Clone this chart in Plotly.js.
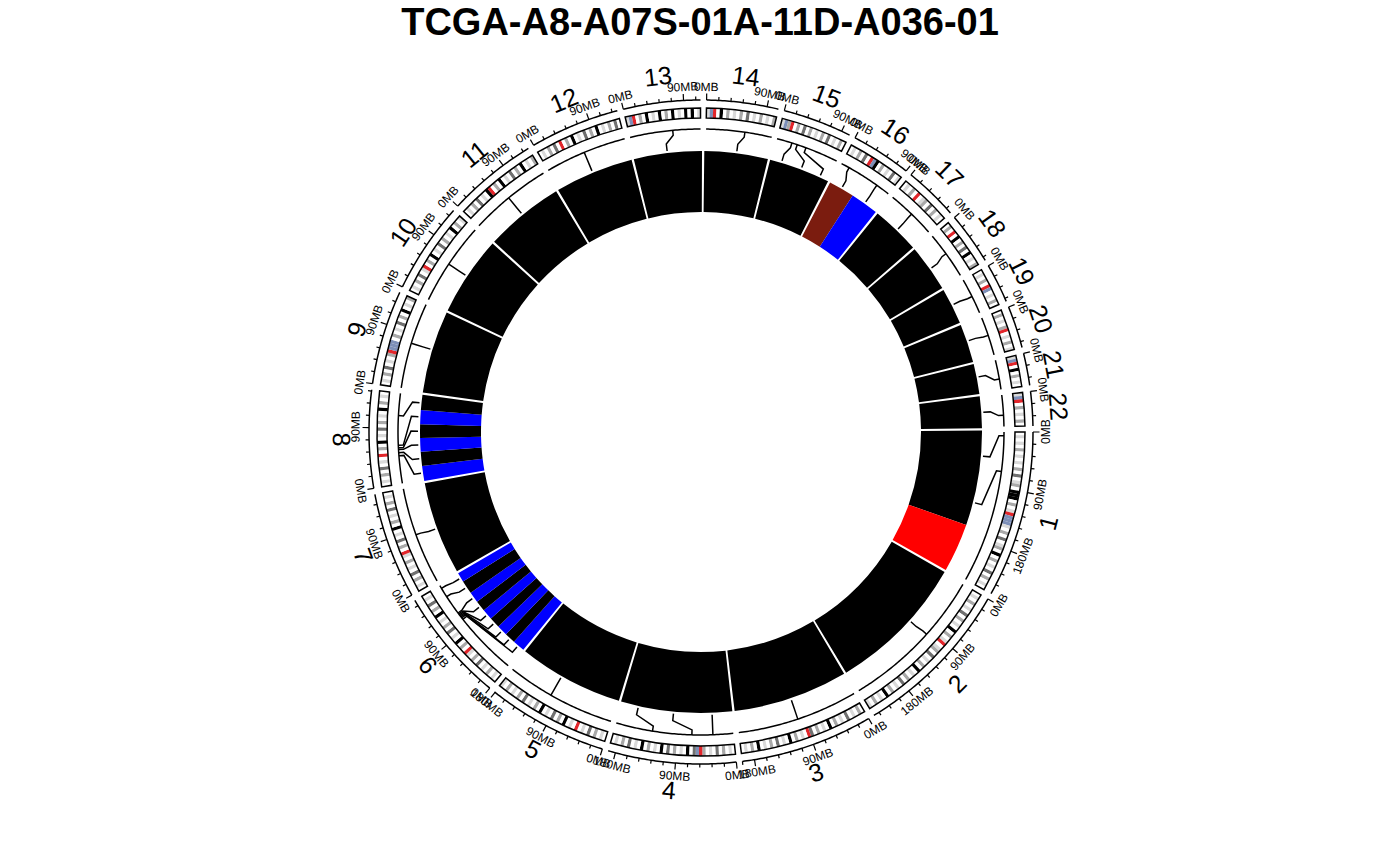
<!DOCTYPE html>
<html>
<head>
<meta charset="utf-8">
<script src="https://cdn.plot.ly/plotly-3.0.1.min.js"></script>
<style>
  html, body { margin: 0; padding: 0; background: #fff; }
  #chart { width: 1400px; height: 866px; }
</style>
</head>
<body>
<div id="chart"></div>
<script>
// chromosomes, sizes in MB
const chrNames = ['1','2','3','4','5','6','7','8','9','10','11','12','13','14','15','16','17','18','19','20','21','22'];
const chrLengths = [249,243,198,191,181,171,159,146,141,136,135,134,115,107,103,90,81,78,59,63,48,51];
const chrGap = 9;

// ideogram bands, one letter per equal slice of the chromosome
// w gneg, l gpos25, g gpos50, d gpos75, b gpos100, r acen, s stalk/gvar
const bandPatterns = [
  'wlwlwgwlwlwgwdwlgwbbbwgwlrssslwgwdwlgwbwgwlwdwgwlw',
  'wlwgwlwdwgwlwbwgwlrwlgwdwlwgwbwlwgwdwlwgwbwlwgwl',
  'wgwlwdwlwgwbwlwgwdrwlwgwbwlwdwgwlwbwgwlw',
  'wlwgwdwlwgrsdwbwlwgwdwbwlwgwbwlwdwgwlw',
  'wlwgwdwlwrwlwbwgwdwlwbwgwlwdwgwlwgwl',
  'wlwgwlwdwgwlrwgwbwlwdwgwlwbwgwdwlw',
  'wlwgwdwlwgwlrwgwdwlwbwgwlwdwgwlw',
  'wlwgwdwlwrwgwbwlwdwgwlwbwgwlw',
  'wlwgwdwlwgrssswgwlwdwgwbwlwg',
  'wlwgwdwlrwgwbwlwdwgwlwbwgwl',
  'wlwgwdwlwbrwgwbwlwdwgwbwlwg',
  'wlwgwdwrwgwbwlwdwgwbwlwgwdw',
  'lsrwgwbwlwbwgwbwlwbwbwl',
  'lsrwbwgwlwgwdwlwgwlwg',
  'lsgrwgwdwgwlwgwdwlwgw',
  'wlwgwdwrsbwgwlwdwl',
  'wlwgwrwlgwdwgwlw',
  'wgwrwbwgwdwbwlwg',
  'wlwgwrswlwgw',
  'wgwlwgrwlwgwl',
  'lsrwbwgwlw',
  'lsrwgwlwgw'
];
const bandColors = {w: '#ffffff', l: '#d9d9d9', g: '#a9a9a9', d: '#707070', b: '#000000', r: '#e2262b', s: '#7d8fb8'};

// copy number segments of the inner ring (MB)
const segChr   = ['1','1','2','3','4','5','6','6','6','6','6','6','6','6','6','7','8','8','8','8','8','8',
                  '9','10','11','12','13','14','15','16','16','17','18','19','20','21','22'];
const segStart = [0,165,0,0,0,0, 0,19,38,57,76,95,114,133,157, 0, 0,24,49,73,97,122,
                  0,0,0,0,0,0,0, 0,43, 0,0,0,0,0,0];
const segEnd   = [165,249,243,198,191,181, 19,38,57,76,95,114,133,157,171, 159, 24,49,73,97,122,146,
                  141,136,135,134,115,107,103, 43,90, 81,78,59,63,48,51];
const segState = ['neutral','gain','neutral','neutral','neutral','neutral',
                  'loss','neutral','loss','neutral','loss','neutral','loss','neutral','loss',
                  'neutral',
                  'loss','neutral','loss','neutral','loss','neutral',
                  'neutral','neutral','neutral','neutral','neutral','neutral','neutral',
                  'amp','loss',
                  'neutral','neutral','neutral','neutral','neutral','neutral'];
const stateColors = {neutral: '#000000', loss: '#0000ff', gain: '#ff0000', amp: '#7b1c0f'};

// link lines: chromosome, position on the ideogram, position on the ring (MB)
const linkChr  = ['1','1','2','3','4','4','4','5','6','6','6','6','6','6','6','6','6','7',
                  '8','8','8','8','8','8','9','10','11','12','13','14','15','15','15','16','16',
                  '17','18','19','20','21','22'];
const linkFrom = [6,64,100,100,131,67,33,106, 105,108,110,112,114,116,118,150,166, 82,
                  45,50,55,58,62,110, 74,66,66,65,70,63, 25,34,49, 14,67, 41,36,30,30,31,33];
const linkTo   = [42,124,102,100,162,100,33,106, 9,28,47,66,85,104,123,145,164, 80,
                  12,37,61,85,110,134, 74,66,66,65,57,54, 18,54,89, 20,68, 42,41,28,28,21,26];

const title = 'TCGA-A8-A07S-01A-11D-A036-01';

// genome -> angle (degrees, clockwise from 3 o'clock)
const chrStart = [];
let acc = 0;
chrLengths.forEach(l => { chrStart.push(acc); acc += l + chrGap; });
const total = acc;
const deg = mb => mb / total * 360;
const ang = (chr, pos) => deg(chrStart[chrNames.indexOf(chr)] + pos);

const R = {ringIn: 220, ringOut: 281, linkIn: 283, linkOut: 303, bandIn: 314, bandOut: 324,
           scale: 332, tickMinor: 335.5, tickMajor: 338.5, mbText: 345, chrText: 359, max: 420};
const ringPad = 2.5;   // ring cells run a little past the chromosome ends

// inner ring
const ring = {theta: [], width: [], color: []};
segChr.forEach((c, i) => {
  const len = chrLengths[chrNames.indexOf(c)];
  const s = segStart[i] - (segStart[i] === 0 ? ringPad : 0);
  const e = segEnd[i] + (segEnd[i] === len ? ringPad : 0);
  ring.theta.push(ang(c, (s + e) / 2));
  ring.width.push(deg(e - s));
  ring.color.push(stateColors[segState[i]]);
});

// ideogram bands
const band = {theta: [], width: [], color: []};
chrNames.forEach((c, i) => {
  const pat = bandPatterns[i];
  const step = chrLengths[i] / pat.length;
  for (let k = 0; k < pat.length; k++) {
    band.theta.push(ang(c, (k + 0.5) * step));
    band.width.push(deg(step) * 1.01);
    band.color.push(bandColors[pat[k]]);
  }
});

// arcs, ticks, labels
const arcR = [], arcT = [];
const tickR = [], tickT = [];
const annotations = [];

function rot(th) { return th < 180 ? th - 90 : th - 270; }
function polarText(r, th, text, size) {
  const t = th * Math.PI / 180;
  return {xref: 'x', yref: 'y', x: r * Math.cos(t), y: -r * Math.sin(t), text: text,
          textangle: rot(th), showarrow: false, xanchor: 'center', yanchor: 'middle',
          font: {family: 'Arial, Liberation Sans, sans-serif', size: size, color: '#000'}};
}

chrNames.forEach((c, i) => {
  const len = chrLengths[i];
  [R.linkOut, R.scale].forEach(rr => {
    const n = Math.ceil(deg(len) / 0.4);
    for (let k = 0; k <= n; k++) { arcR.push(rr); arcT.push(ang(c, len * k / n)); }
    arcR.push(null); arcT.push(null);
  });
  for (let p = 0; p <= len; p += 18) {
    const major = p % 90 === 0;
    const th = ang(c, p);
    tickR.push(R.scale, major ? R.tickMajor : R.tickMinor, null);
    tickT.push(th, th, null);
    if (major) annotations.push(polarText(R.mbText, th, p + 'MB', 12));
  }
  annotations.push(polarText(R.chrText, ang(c, len / 2), c, 25));
});

// link lines
const linkR = [], linkT = [];
linkChr.forEach((c, i) => {
  const a = ang(c, linkFrom[i]), b = ang(c, linkTo[i]);
  linkR.push(R.linkOut, 298, 290, R.linkIn, null);
  linkT.push(a, a, b, b, null);
});

const data = [
  {type: 'barpolar', theta: ring.theta, width: ring.width, r: ring.theta.map(() => R.ringOut - R.ringIn),
   base: R.ringIn, marker: {color: ring.color, line: {width: 0}}, hoverinfo: 'skip', showlegend: false},
  {type: 'barpolar', theta: band.theta, width: band.width, r: band.theta.map(() => R.bandOut - R.bandIn),
   base: R.bandIn, marker: {color: band.color, line: {width: 0}}, hoverinfo: 'skip', showlegend: false},
  {type: 'barpolar', theta: chrNames.map((c, i) => ang(c, chrLengths[i] / 2)),
   width: chrLengths.map(deg), r: chrNames.map(() => R.bandOut - R.bandIn), base: R.bandIn,
   marker: {color: 'rgba(0,0,0,0)', line: {color: '#000', width: 1.5}}, hoverinfo: 'skip', showlegend: false},
  {type: 'scatterpolar', mode: 'lines', r: arcR, theta: arcT, connectgaps: false,
   line: {color: '#000', width: 1.5}, hoverinfo: 'skip', showlegend: false},
  {type: 'scatterpolar', mode: 'lines', r: tickR, theta: tickT, connectgaps: false,
   line: {color: '#000', width: 1.2}, hoverinfo: 'skip', showlegend: false},
  {type: 'scatterpolar', mode: 'lines', r: linkR, theta: linkT, connectgaps: false,
   line: {color: '#000', width: 1.5}, hoverinfo: 'skip', showlegend: false},
  {type: 'scatter', x: [], y: [], xaxis: 'x', yaxis: 'y', hoverinfo: 'skip', showlegend: false}
];

const W = 1400, H = 866, cx = 701, cy = 432;
const xDom = [(cx - R.max) / W, (cx + R.max) / W];
const yDom = [(H - cy - R.max) / H, (H - cy + R.max) / H];

const layout = {
  width: W, height: H,
  margin: {l: 0, r: 0, t: 0, b: 0},
  paper_bgcolor: '#fff',
  showlegend: false,
  title: {text: title, x: 0.5, xanchor: 'center', y: 1 - 22 / H, yanchor: 'middle', yref: 'container',
          font: {family: 'Arial, Liberation Sans, sans-serif', size: 38, weight: 'bold', color: '#000'}},
  polar: {
    domain: {x: xDom, y: yDom},
    bgcolor: 'rgba(0,0,0,0)',
    barmode: 'overlay',
    radialaxis: {range: [0, R.max], visible: false},
    angularaxis: {direction: 'clockwise', rotation: 0, visible: false}
  },
  xaxis: {domain: xDom, range: [-R.max, R.max], visible: false, fixedrange: true},
  yaxis: {domain: yDom, range: [-R.max, R.max], visible: false, fixedrange: true},
  annotations: annotations
};

Plotly.newPlot('chart', data, layout, {displayModeBar: false, staticPlot: true});
</script>
</body>
</html>
